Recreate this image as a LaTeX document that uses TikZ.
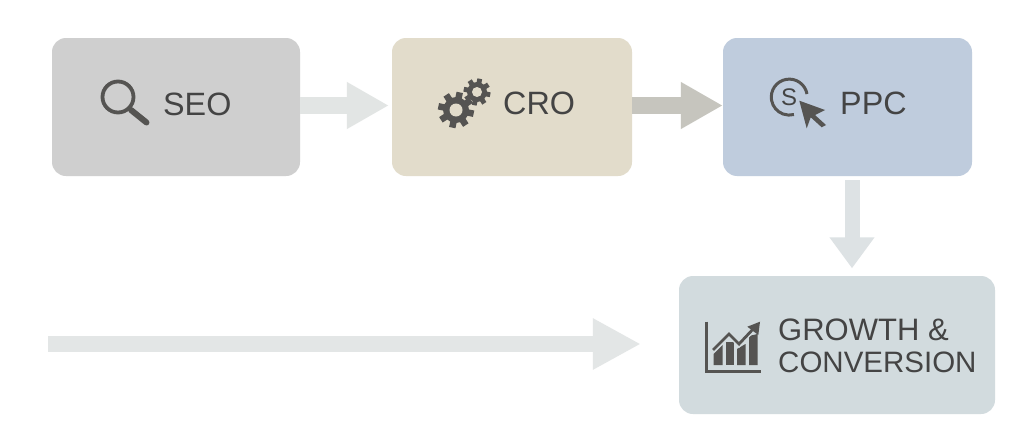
\documentclass[tikz,border=0pt]{standalone}
\usepackage{fontspec}
\setmainfont{Liberation Sans}
\usetikzlibrary{arrows.meta,calc}
\definecolor{seobg}{HTML}{CFCFCF}
\definecolor{crobg}{HTML}{E2DCCB}
\definecolor{ppcbg}{HTML}{BFCCDD}
\definecolor{growbg}{HTML}{D2DBDE}
\definecolor{ink}{HTML}{444444}
\definecolor{icon}{HTML}{555452}
\definecolor{arrowa}{HTML}{E2E5E4}
\definecolor{arrowb}{HTML}{C6C5BE}
\definecolor{arrowc}{HTML}{DDE2E4}
\definecolor{arrowd}{HTML}{E3E6E6}
\tikzset{
  card/.style={rectangle,rounded corners=14,inner sep=0pt,draw=none},
  lab/.style={anchor=base west,inner sep=0pt,text=ink,font=\fontsize{32.3}{32.3}\selectfont},
  labg/.style={anchor=base west,inner sep=0pt,text=ink,font=\fontsize{31}{31}\selectfont},
  labsm/.style={anchor=base west,inner sep=0pt,text=ink,font=\fontsize{29.5}{29.5}\selectfont},
  bigarrow/.style={line width=17,-{Triangle[length=42,width=44]}},
}
\newcommand{\gearicon}[5]{% x,y,outer,body,hole
  \fill[icon] (#1,#2) circle ({#4});
  \foreach \a in {0,45,...,315}{
    \draw[icon,line width=#3*0.36] ($(#1,#2)+(\a+12:#4-1)$) -- ($(#1,#2)+(\a+12:#3)$);
  }
  \fill[crobg] (#1,#2) circle ({#5});
}
\begin{document}
\begin{tikzpicture}[x=1pt,y=-1pt]
\useasboundingbox (0,0) rectangle (1024,447);
\fill[white] (0,0) rectangle (1024,447);
% cards
\node[card,fill=seobg,minimum width=248,minimum height=138] (seo) at (176,107) {};
\node[card,fill=crobg,minimum width=240,minimum height=138] (cro) at (512,107) {};
\node[card,fill=ppcbg,minimum width=249,minimum height=138] (ppc) at (847.5,107) {};
\node[card,fill=growbg,minimum width=316,minimum height=138] (grow) at (837,345) {};
\coordinate (start) at (48,344);
\coordinate (downstart) at ($(ppc.south)+(4.5,4)$);
\coordinate (downend) at (downstart |- grow.north);
% connectors
\draw[bigarrow,arrowa,shorten >=3] ([yshift=1.5]seo.east) -- ([yshift=1.5]cro.west);
\draw[bigarrow,arrowb] ([yshift=1.5]cro.east) -- ([yshift=1.5]ppc.west);
\draw[arrowc,line width=15,-{Triangle[length=31,width=43]},shorten >=7.5] (downstart) -- (downend);
\draw[arrowd,line width=16,-{Triangle[length=48,width=48]},shorten >=38] (start) -- (start -| grow.west);
% labels
\node[lab] (seolab) at (163,115) {SEO};
\node[lab] (crolab) at (503,114.5) {CRO};
\node[lab] (ppclab) at (840,114.5) {PPC};
\node[labg] (growlab) at (778,340) {GROWTH \&};
\node[labsm] (convlab) at (778,372.5) {CONVERSION};
% magnifier icon
\draw[icon,line width=3.8] (118,97) circle (15.5);
\draw[icon,line width=6,line cap=round] (131,110) -- (146.5,122.5);
% gears icon
\gearicon{456}{110}{18}{13}{6.5}
\gearicon{477}{92}{13.5}{10}{5}
% dollar click icon
\draw[icon,line width=3] (807,94) arc[start angle=-10,end angle=-285,radius=18];
\node[inner sep=0pt,text=ink,font=\fontsize{24}{24}\selectfont] (ssym) at (789,97) {S};
\fill[icon] (799.3,100.7) -- (825,110) -- (815,115) -- (826,125) -- (821.7,127.3) -- (810.7,117.3) -- (806.7,128.3) -- cycle;
% chart icon
\draw[icon,line width=3] (706.7,321.7) -- (706.7,371) -- (760.7,371);
\fill[icon] (713.5,365) -- (713.5,354) -- (722.5,345) -- (722.5,365) -- cycle;
\fill[icon] (725.5,365) -- (725.5,342) -- (734,342) -- (734,365) -- cycle;
\fill[icon] (737,365) -- (737,349) -- (745.5,344) -- (745.5,365) -- cycle;
\fill[icon] (749,365) -- (749,336) -- (757.5,334) -- (757.5,365) -- cycle;
\draw[growbg,line width=5.5] (713,350) -- (729,334) -- (739,344) -- (755,327);
\draw[icon,line width=2.8] (713,350) -- (729,334) -- (739,344) -- (755,327);
\fill[icon] (760,321.7) -- (747.3,326.7) -- (758.3,335) -- cycle;
\end{tikzpicture}
\end{document}
